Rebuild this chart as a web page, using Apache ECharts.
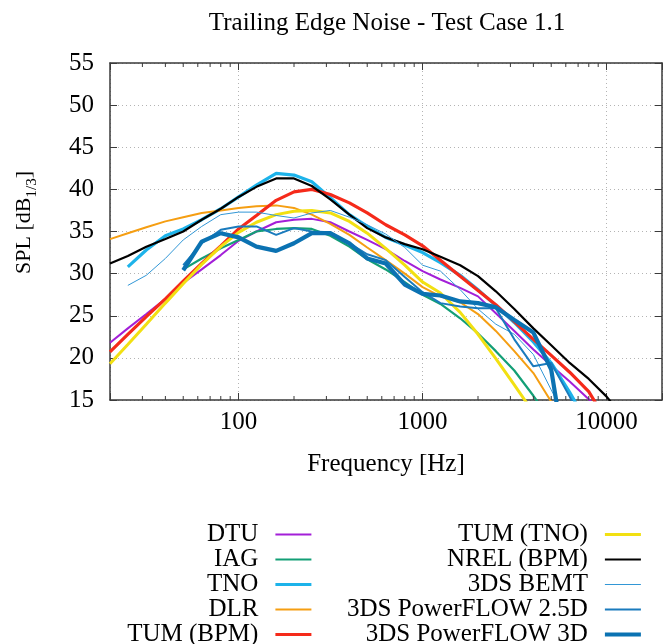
<!DOCTYPE html>
<html><head><meta charset="utf-8">
<script src="https://cdn.jsdelivr.net/npm/echarts@6/dist/echarts.min.js"></script>
<style>html,body{margin:0;padding:0;background:#fff}#c{width:665px;height:644px}</style>
</head><body><div id="c"></div>
<script>
// third-octave band centre frequencies [Hz]
const freqs = [20,25,31.5,40,50,63,80,100,125,160,200,250,315,400,500,630,800,1000,1250,1600,2000,2500,3150,4000,5000,6300,8000,10000,12500];

// SPL [dB 1/3] per series (null = no value)
const DTU      = [21.8,23.5,25.2,27.0,28.9,30.5,32.2,33.9,35.0,36.1,36.4,36.5,36.1,35.0,34.0,32.9,31.5,30.3,29.3,28.3,27.3,25.3,23.2,21.0,19.1,17.2,15.1,12.5,null];
const IAG      = [null,null,null,null,30.5,31.8,33.0,34.0,35.0,35.3,35.4,35.3,34.5,33.2,31.7,30.5,29.0,27.5,26.4,24.7,22.9,20.8,18.5,15.5,12.5,null,null,null,null];
const TNO      = [null,30.8,32.8,34.5,35.3,36.4,37.7,39.1,40.5,41.9,41.7,40.9,39.0,37.0,35.6,34.3,33.4,32.5,31.3,29.8,28.1,26.2,24.2,21.9,19.4,15.9,12.0,null,null];
const DLR      = [34.1,34.8,35.5,36.2,36.7,37.2,37.5,37.8,38.0,38.1,37.8,37.0,35.9,34.6,33.1,31.6,30.0,28.4,27.3,26.6,25.2,23.2,20.8,18.2,14.8,null,null,null,null];
const TUM_BPM  = [20.7,22.8,24.9,27.0,29.1,31.2,33.3,35.3,36.9,38.7,39.7,40.0,39.4,38.4,37.2,35.8,34.6,33.3,31.6,29.7,28.0,26.3,24.3,22.2,20.3,18.3,16.0,12.5,null];
const TUM_TNO  = [19.3,21.6,24.0,26.5,28.8,31.1,33.2,34.9,36.1,37.0,37.4,37.5,37.2,36.2,34.8,33.0,31.0,29.0,27.7,25.4,22.8,19.9,16.8,13.5,null,null,null,null,null];
const NREL_BPM = [31.2,32.1,33.2,34.1,35.0,36.4,37.7,39.1,40.3,41.3,41.3,40.4,38.8,37.0,35.4,34.3,33.5,32.9,32.0,31.0,29.7,27.9,25.8,23.5,21.5,19.4,17.5,15.4,12.8];
const BEMT     = [null,28.6,29.8,31.8,34.0,35.6,37.0,37.3,37.3,36.9,36.6,37.2,37.5,36.7,35.8,34.7,33.1,31.0,30.3,28.1,25.8,24.0,22.8,20.4,16.2,12.0,null,null,null];
const PF25D    = [null,null,null,null,31.0,33.6,35.2,35.6,35.6,34.6,35.4,35.0,34.9,33.6,32.3,31.6,29.6,27.8,26.5,26.1,25.9,25.9,22.2,19.0,19.4,15.4,11.0,null,null];
const PF3D     = [null,null,null,null,30.4,33.8,34.8,34.3,33.2,32.7,33.6,34.8,34.8,33.6,31.8,31.2,28.7,27.6,27.4,26.7,26.5,26.0,24.5,23.0,18.6,5.0,null,null,null];

const seriesNames = ['DTU','IAG','TNO','DLR','TUM (BPM)','TUM (TNO)','NREL (BPM)','3DS BEMT','3DS PowerFLOW 2.5D','3DS PowerFLOW 3D'];
const seriesValues = [DTU,IAG,TNO,DLR,TUM_BPM,TUM_TNO,NREL_BPM,BEMT,PF25D,PF3D];
const seriesColors = ['#a31fd8','#139f76','#1db3ea','#f59e12','#f52a1a','#f2e012','#000000','#3297d6','#1a7bbd','#0b72b2'];
const seriesWidths = [2,2.2,3.2,2,3.2,3,2.2,1,2,4.2];

// axis ticks
const xMajorTicks = [100,1000,10000];
const xMinorTicks = [30,40,50,60,70,80,90,200,300,400,500,600,700,800,900,2000,3000,4000,5000,6000,7000,8000,9000];
const yMin = 15, yMax = 55, yStep = 5;
const xMin = 20, xMax = 20000;

const FONT = '"Liberation Serif", "Times New Roman", serif';
const FS = 25;
const BORDER = '#3a3a3a';

const chart = echarts.init(document.getElementById('c'), null, {renderer: 'canvas'});

const lineSeries = seriesNames.map((name, k) => ({
  name: name,
  type: 'line',
  xAxisIndex: 0, yAxisIndex: 0,
  symbol: 'none',
  smooth: false,
  clip: true,
  z: 3 + k,
  lineStyle: {color: seriesColors[k], width: seriesWidths[k]},
  itemStyle: {color: seriesColors[k]},
  emphasis: {disabled: true},
  data: freqs.map((f, i) => [f, seriesValues[k][i]]).filter(p => p[1] !== null)
}));

const minorTickSeries = {
  type: 'custom',
  xAxisIndex: 0, yAxisIndex: 0,
  silent: true,
  z: 20,
  data: xMinorTicks.map(f => [f, yMin]),
  encode: {x: 0, y: 1},
  renderItem: function (params, api) {
    const x = api.coord([api.value(0), yMin])[0];
    const yb = api.coord([api.value(0), yMin])[1];
    const yt = api.coord([api.value(0), yMax])[1];
    return {type: 'group', children: [
      {type: 'line', shape: {x1: x, y1: yb, x2: x, y2: yb - 4}, style: {stroke: BORDER, lineWidth: 1}},
      {type: 'line', shape: {x1: x, y1: yt, x2: x, y2: yt + 4}, style: {stroke: BORDER, lineWidth: 1}}
    ]};
  }
};

const legendCommon = {
  orient: 'vertical', align: 'right', padding: 0,
  itemWidth: 36, itemHeight: 10, itemGap: 0,
  height: 140,
  selectedMode: false,
  textStyle: {fontFamily: FONT, fontSize: FS, lineHeight: 25, color: '#000', padding: [0, 12, 0, 0]},
  lineStyle: {width: 'inherit'},
  itemStyle: {opacity: 0, borderWidth: 0}
};

const option = {
  backgroundColor: '#fff',
  animation: false,
  textStyle: {fontFamily: FONT},
  graphic: [{
    type: 'text', x: 387, y: 23, silent: true,
    style: {text: 'Trailing Edge Noise - Test Case 1.1', fontFamily: FONT, fontSize: FS, fill: '#000', align: 'center', verticalAlign: 'middle'}
  }],
  grid: {left: 110, top: 63, right: 1, bottom: 244, containLabel: false},
  legend: [
    Object.assign({}, legendCommon, {data: seriesNames.slice(0, 5), right: 352, top: 522}),
    Object.assign({}, legendCommon, {data: seriesNames.slice(5), right: 22, top: 522})
  ],
  xAxis: [{
    type: 'log', logBase: 10, min: xMin, max: xMax, position: 'bottom',
    name: 'Frequency [Hz]', nameLocation: 'middle', nameGap: 52,
    nameTextStyle: {fontFamily: FONT, fontSize: FS, color: '#000'},
    axisLine: {show: true, onZero: false, lineStyle: {color: BORDER, width: 1.5}},
    axisTick: {show: true, inside: true, length: 7, lineStyle: {color: BORDER, width: 1}},
    minorTick: {show: false},
    axisLabel: {fontFamily: FONT, fontSize: FS, color: '#000', margin: 10,
      formatter: v => { const r = Math.round(v); return xMajorTicks.indexOf(r) >= 0 ? String(r) : ''; }},
    splitLine: {show: true, lineStyle: {type: [1, 3], color: '#b4b4b4', width: 1}}
  }, {
    type: 'log', logBase: 10, min: xMin, max: xMax, position: 'top',
    axisLine: {show: true, onZero: false, lineStyle: {color: BORDER, width: 1.5}},
    axisTick: {show: true, inside: true, length: 7, lineStyle: {color: BORDER, width: 1}},
    axisLabel: {show: false}, splitLine: {show: false}
  }],
  yAxis: [{
    type: 'value', min: yMin, max: yMax, interval: yStep, position: 'left',
    name: '{n|SPL [dB}{s|1/3}{n|]}', nameLocation: 'middle', nameGap: 71, nameRotate: 90,
    nameTextStyle: {fontFamily: FONT, fontSize: 22, color: '#000', padding: [0, 0, 0, 18],
      rich: {
        n: {fontFamily: FONT, fontSize: 22, color: '#000', lineHeight: 26, verticalAlign: 'top'},
        s: {fontFamily: FONT, fontSize: 15, color: '#000', lineHeight: 15, padding: [12, 0, 0, 0], verticalAlign: 'top'}
      }},
    axisLine: {show: true, onZero: false, lineStyle: {color: BORDER, width: 1.5}},
    axisTick: {show: true, inside: true, length: 7, lineStyle: {color: BORDER, width: 1}},
    axisLabel: {fontFamily: FONT, fontSize: FS, color: '#000', margin: 16},
    splitLine: {show: true, lineStyle: {type: [1, 3], color: '#b4b4b4', width: 1}}
  }, {
    type: 'value', min: yMin, max: yMax, interval: yStep, position: 'right',
    axisLine: {show: true, onZero: false, lineStyle: {color: BORDER, width: 1.5}},
    axisTick: {show: true, inside: true, length: 7, lineStyle: {color: BORDER, width: 1}},
    axisLabel: {show: false}, splitLine: {show: false}
  }],
  series: lineSeries.concat([minorTickSeries])
};
chart.setOption(option);
</script>
</body></html>
